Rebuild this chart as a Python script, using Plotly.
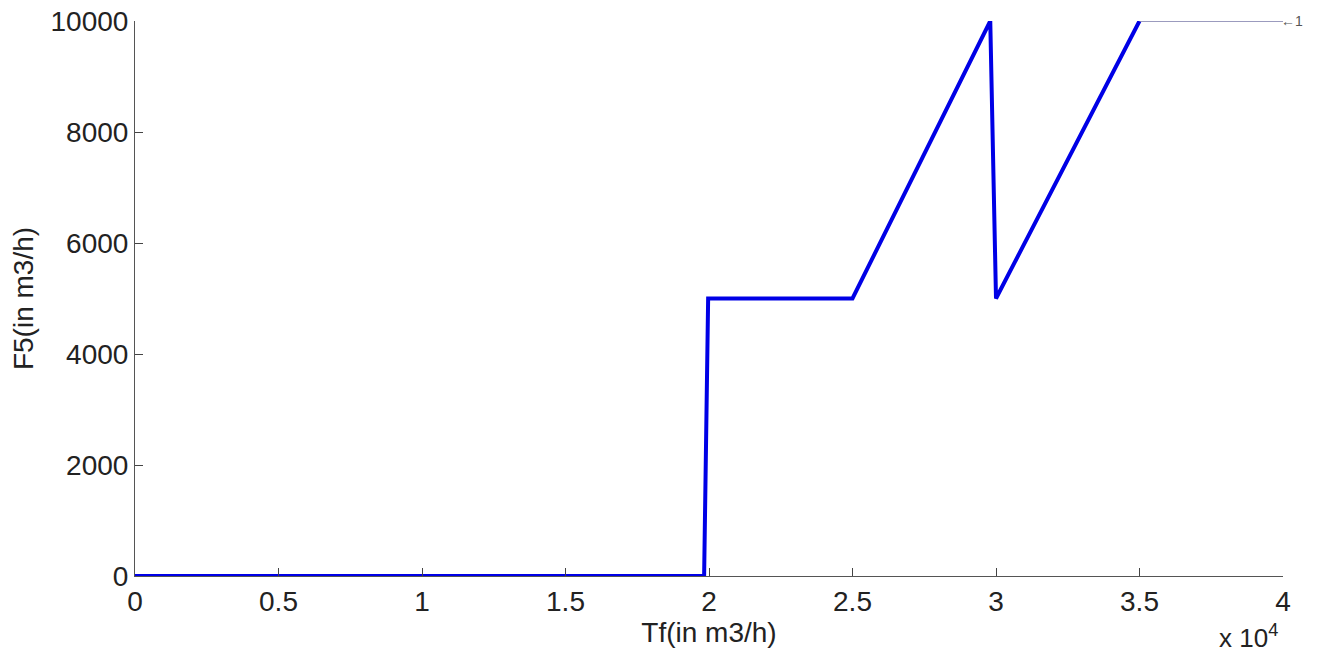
import plotly.graph_objects as go

tf = [0, 19830, 19970, 25000, 29800, 30000, 35000]
f5 = [0, 0, 5000, 5000, 10000, 5000, 10000]
tf_tail = [35000, 40000]
f5_tail = [10000, 10000]
xtick_vals = [0, 5000, 10000, 15000, 20000, 25000, 30000, 35000, 40000]
xtick_text = ["0", "0.5", "1", "1.5", "2", "2.5", "3", "3.5", "4"]
ytick_vals = [0, 2000, 4000, 6000, 8000, 10000]
ytick_text = ["0", "2000", "4000", "6000", "8000", "10000"]

FONT = "Liberation Sans, Arial"

fig = go.Figure()
fig.add_trace(go.Scatter(x=tf, y=f5, mode="lines",
                         line=dict(color="#0000e6", width=4), cliponaxis=False))
fig.add_trace(go.Scatter(x=tf_tail, y=f5_tail, mode="lines",
                         line=dict(color="#7a7aa8", width=1.5), cliponaxis=False))

fig.add_annotation(x=40000, y=10000, text="←1", showarrow=False, xanchor="left",
                   xshift=-4, font=dict(family=FONT, size=14, color="#555555"))
fig.add_annotation(x=1, y=0, xref="paper", yref="paper", xanchor="right", yanchor="middle",
                   text="x 10<sup>4</sup>", showarrow=False, yshift=-60, xshift=-3,
                   font=dict(family=FONT, size=26, color="#222222"))

fig.update_layout(
    width=1317, height=654,
    margin=dict(l=135, r=34, t=21, b=78),
    paper_bgcolor="white", plot_bgcolor="white",
    showlegend=False,
    font=dict(family=FONT, size=28, color="#222222"),
    xaxis=dict(range=[0, 40000], tickvals=xtick_vals, ticktext=xtick_text,
               ticks="inside", ticklen=8, tickcolor="#444444", showgrid=False,
               zeroline=False, showline=True, linecolor="#555555", linewidth=1,
               tickfont=dict(size=28), ticklabeloverflow="allow", automargin=False,
               title=dict(text="Tf(in m3/h)", standoff=0, font=dict(size=28))),
    yaxis=dict(range=[0, 10000], tickvals=ytick_vals, ticktext=ytick_text,
               ticks="inside", ticklen=8, tickcolor="#444444", showgrid=False,
               zeroline=False, showline=True, linecolor="#555555", linewidth=1,
               tickfont=dict(size=28), ticklabeloverflow="allow", automargin=False,
               title=dict(text="F5(in m3/h)", standoff=8, font=dict(size=28))),
)

fig.write_html("out.html", config={"displayModeBar": False},
               post_script="document.body.style.margin='0';")
